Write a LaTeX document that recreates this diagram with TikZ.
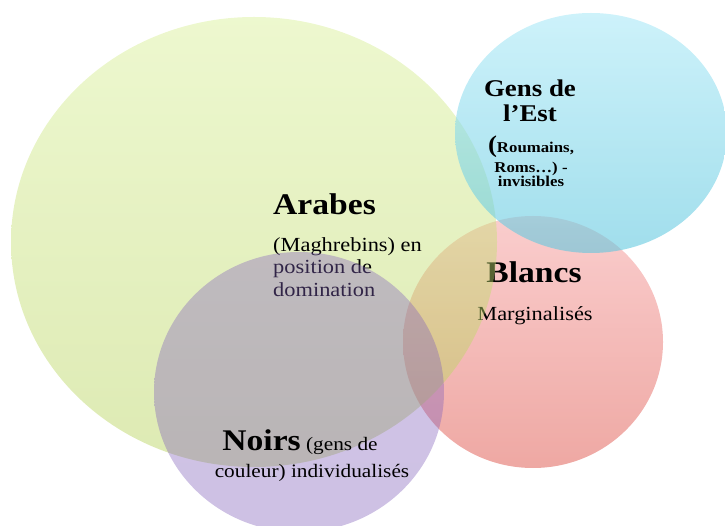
\documentclass[tikz,border=0pt]{standalone}
\usepackage{fontspec}
\setmainfont[FakeStretch=1.12]{Liberation Serif}
\definecolor{arabTop}{RGB}{215,239,148}
\definecolor{arabBot}{RGB}{180,208,86}
\definecolor{blancTop}{RGB}{248,184,184}
\definecolor{blancBot}{RGB}{231,131,124}
\definecolor{noirTop}{RGB}{132,100,190}
\definecolor{noirBot}{RGB}{126,92,184}
\definecolor{estTop}{RGB}{172,233,247}
\definecolor{estBot}{RGB}{97,200,223}
\tikzset{
  txt/.style={inner sep=0pt, anchor=base},
  big/.style={font=\bfseries\fontsize{30}{30}\selectfont},
  mid/.style={font=\fontsize{20}{20}\selectfont},
  small/.style={font=\bfseries\fontsize{15}{15}\selectfont}
}
\begin{document}
\begin{tikzpicture}[x=1pt, y=-1pt, line join=round]
    \useasboundingbox (0,0) rectangle (725,526);
    \clip (0,0) rectangle (725,526);
    \path
    (254,242) coordinate (A)
    (533,342) coordinate (B)
    (299,392) coordinate (N)
    (591,133) coordinate (E);
    % Blancs
    \path[top color=blancTop, bottom color=blancBot, fill opacity=.7] (B) ellipse [x radius=130pt, y radius=126pt];
    \node[txt, big] (blancs) at (534,283) {Blancs};
    \node[txt, mid] (marg) at (535,320) {Marginalisés};
    % Arabes
    \path[top color=arabTop, bottom color=arabBot, fill opacity=.45] (A) ellipse [x radius=243pt, y radius=225pt];
    \node[txt, big, anchor=base west] (arabes) at (273,215) {Arabes};
    \foreach \t/\y [count=\i] in {{(Maghrebins) en}/252, {position de}/274, {domination}/297}
    \node[txt, mid, anchor=base west] (magh\i) at (273,\y) {\t};
    % Noirs
    \path[top color=noirTop, bottom color=noirBot, fill opacity=.38] (N) ellipse [x radius=145pt, y radius=140pt];
    % Gens de l'Est
    \path[top color=estTop, bottom color=estBot, fill opacity=.6] (E) ellipse [x radius=136pt, y radius=120pt];
    \node[txt, font=\fontsize{19}{19}\selectfont] (noirs) at (300,450) {{\bfseries\fontsize{30}{30}\selectfont Noirs} (gens de};
    \node[txt, font=\fontsize{19}{19}\selectfont] (coul) at (312,477) {couleur) individualisés};
    \node[txt, font=\bfseries\fontsize{24}{24}\selectfont] (gens) at (530,97) {Gens de};
    \node[txt, font=\bfseries\fontsize{24}{24}\selectfont] (est) at (530,122) {l'Est};
    \node[txt, small] (roum) at (531,153) {{\fontsize{24}{24}\selectfont(}Roumains,};
    \node[txt, small] (roms) at (531,173) {Roms…) -};
    \node[txt, small] (invis) at (531,187) {invisibles};
\end{tikzpicture}
\end{document}
